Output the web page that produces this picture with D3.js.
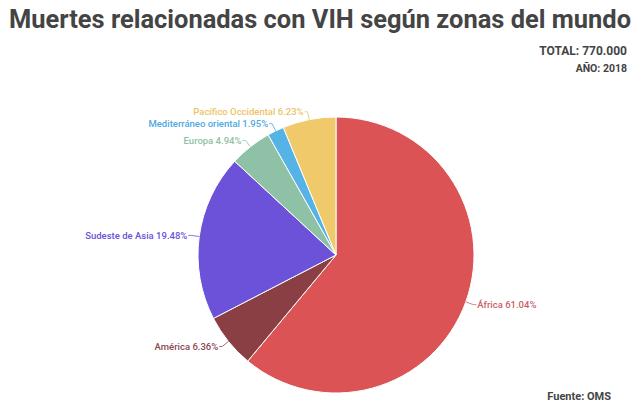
<!DOCTYPE html>
<html>
<head>
<meta charset="utf-8">
<script src="https://cdn.jsdelivr.net/npm/d3@7"></script>
<style>
  body { margin: 0; background: #fff; }
  text { font-family: Roboto, "Noto Sans", sans-serif; }
</style>
</head>
<body>
<svg id="chart" width="640" height="410"></svg>
<script>
// data
var zonas = ['África', 'América', 'Sudeste de Asia', 'Europa', 'Mediterráneo oriental', 'Pacífico Occidental'];
var porcentajes = [61.04, 6.36, 19.48, 4.94, 1.95, 6.23];
var colores = ['#db5355', '#8a3f44', '#6c52d8', '#8fc1a6', '#56b3e6', '#f0c96a'];
var colores_texto = ['#c95f68', '#8a4a50', '#6c52d8', '#8fbfa6', '#4fa9df', '#ecc465'];

var titulo = 'Muertes relacionadas con VIH según zonas del mundo';
var total_txt = 'TOTAL: 770.000';
var anio_txt = 'AÑO: 2018';
var fuente_txt = 'Fuente: OMS';

var svg = d3.select('#chart');

var cx = 336, cy = 255, radio = 138;

svg.append('text')
  .attr('x', 320).attr('y', 28)
  .attr('text-anchor', 'middle')
  .attr('font-size', 25).attr('font-weight', 700)
  .attr('fill', '#444')
  .attr('textLength', 622)
  .attr('lengthAdjust', 'spacingAndGlyphs')
  .text(titulo);

svg.append('text')
  .attr('x', 627).attr('y', 55)
  .attr('text-anchor', 'end')
  .attr('font-size', 12).attr('font-weight', 700)
  .attr('fill', '#444')
  .text(total_txt);

svg.append('text')
  .attr('x', 627).attr('y', 72)
  .attr('text-anchor', 'end')
  .attr('font-size', 10.5).attr('font-weight', 700)
  .attr('fill', '#444')
  .text(anio_txt);

svg.append('text')
  .attr('x', 611).attr('y', 400)
  .attr('text-anchor', 'end')
  .attr('font-size', 11).attr('font-weight', 700)
  .attr('fill', '#444')
  .text(fuente_txt);

var datos = zonas.map(function (z, i) {
  return { zona: z, valor: porcentajes[i], i: i };
});

var pie = d3.pie().sort(null).value(function (d) { return d.valor; });
var arcos = pie(datos);

var arc = d3.arc().innerRadius(0).outerRadius(radio);

var g = svg.append('g').attr('transform', 'translate(' + cx + ',' + cy + ')');

g.selectAll('path.slice')
  .data(arcos)
  .enter()
  .append('path')
  .attr('class', 'slice')
  .attr('d', arc)
  .attr('fill', function (d) { return colores[d.data.i]; })
  .attr('stroke', '#fff')
  .attr('stroke-width', 1);

function punto(d, r) {
  var a = (d.startAngle + d.endAngle) / 2;
  return [r * Math.sin(a), -r * Math.cos(a)];
}

// leader lines
g.selectAll('polyline.leader')
  .data(arcos)
  .enter()
  .append('polyline')
  .attr('class', 'leader')
  .attr('fill', 'none')
  .attr('stroke', function (d) { return colores_texto[d.data.i]; })
  .attr('stroke-width', 0.8)
  .attr('points', function (d) {
    var p0 = punto(d, radio);
    var p1 = punto(d, radio + 8);
    var der = p1[0] > 0;
    var p2 = [p1[0] + (der ? 3 : -3), p1[1]];
    return [p0, p1, p2].map(function (p) { return p.join(','); }).join(' ');
  });

g.selectAll('text.etiqueta')
  .data(arcos)
  .enter()
  .append('text')
  .attr('class', 'etiqueta')
  .attr('x', function (d) {
    var p = punto(d, radio + 8);
    return p[0] > 0 ? p[0] + 4 : p[0] - 4;
  })
  .attr('y', function (d) { return punto(d, radio + 8)[1]; })
  .attr('dy', '0.35em')
  .attr('text-anchor', function (d) { return punto(d, radio)[0] > 0 ? 'start' : 'end'; })
  .attr('font-size', 9.5)
  .attr('font-weight', 500)
  .attr('fill', function (d) { return colores_texto[d.data.i]; })
  .text(function (d) { return d.data.zona + ' ' + d.data.valor.toFixed(2) + '%'; });
</script>
</body>
</html>
